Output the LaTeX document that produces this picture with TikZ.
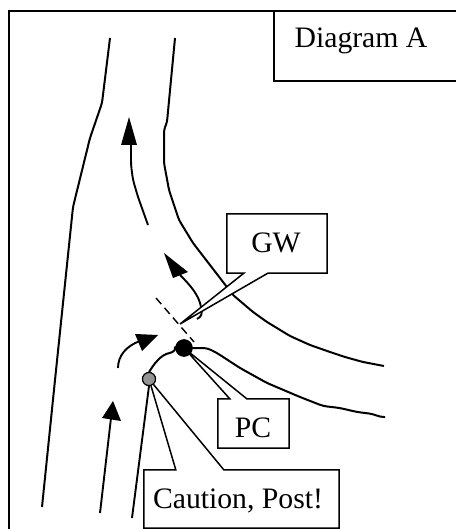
\documentclass[tikz,border=0pt]{standalone}
\usepackage{fontspec}
\setmainfont{Liberation Serif}
\usetikzlibrary{calc}
\tikzset{
  road/.style={draw=black,line width=2pt,line join=round,rounded corners=3pt},
  thin road/.style={draw=black,line width=1.9pt},
  head/.style={fill=black,draw=none},
  label box/.style={inner sep=0pt,font=\fontsize{29.7}{32}\selectfont,text=black},
  callout line/.style={draw=black,fill=white,line width=1.5pt,line join=miter},
  frame line/.style={draw=black,line width=1.6pt},
  black dot/.style={circle,draw=black,fill=black,line width=0.8pt,minimum size=16.5pt,inner sep=0pt},
  gray dot/.style={circle,draw=black,fill=black!42,line width=1.1pt,minimum size=13pt,inner sep=0pt}
}
\begin{document}
\begin{tikzpicture}[x=1pt,y=-1pt]
\useasboundingbox (0,0) rectangle (456,529);
\fill[white] (0,0) rectangle (456,529);
% frame
\coordinate (fbl) at (9,529);
\coordinate (ftl) at (9,11);
\coordinate (ftr) at (456,11);
\draw[frame line] (fbl) -- (ftl) -- (ftr);
% title box
\coordinate (tbt) at (274,11);
\coordinate (tbb) at (274,81);
\coordinate (tbr) at (456,81);
\draw[frame line,line width=1.4pt] (tbt) -- (tbb) -- (tbr);
\node[label box,anchor=base] (title) at (361,48) {Diagram A};
% upper roads
\draw[road] (110,38) -- (102,103) -- (90,138) -- (73,207) -- (55,380) -- (42,507);
\draw[road] (175,38) -- (167,122) -- (164,130) -- (164,163) -- (169,190) -- (179,220) -- (193,243) -- (220,278) -- (233,295) -- (253,312) -- (267,322) -- (290,336) -- (310,345) -- (330,352) -- (345,357) -- (363,362) -- (384,366);
% arrows
\draw[thin road,rounded corners=4pt] (148,225) -- (138,197) -- (133,180) -- (131,165) -- (131,142);
\fill[head] (129,117) -- (121,145) -- (137,145) -- cycle;
\draw[thin road] (197,319) .. controls (201,317) and (203,314) .. (201,307) .. controls (199,295) and (190,285) .. (180,275);
\fill[head] (164,253) -- (173,278) -- (188,272) -- cycle;
\draw[thin road] (118,368) .. controls (118,356) and (126,346) .. (140,341);
\fill[head] (158,335) -- (135,334) -- (142,351) -- cycle;
\draw[thin road] (100,513) -- (111,418);
\fill[head] (113,401) -- (102,418) -- (121,421) -- cycle;
% dashed line
\coordinate (da) at (156,298);
\coordinate (db) at (194,342);
\draw[draw=black,line width=1.4pt,dash pattern=on 8pt off 5pt] (da) -- (db);
% dots
\node[gray dot] (gray) at (149,379) {};
\node[black dot] (blk) at (184,348) {};
% roads from the dots
\draw[road,rounded corners=4pt] (blk.west) -- (176,351) -- (163,355) -- (155,363) -- (gray.north);
\draw[road,rounded corners=4pt] (blk.east) -- (207,348) -- (217,353) -- (240,368) -- (267,383) -- (300,397) -- (323,406) -- (340,408) -- (357,412) -- (373,414) -- (380,417) -- (385,417);
\draw[thin road] (132,518) -- (gray.south);
% GW
\node[label box,minimum width=100pt,minimum height=59pt] (gw) at (277,243.5) {};
\coordinate (gwtip) at (180,324);
\draw[callout line] (gw.north west) -- (gw.north east) -- (gw.south east) -- ($(gw.south west)+(41,0)$) -- (gwtip) -- ($(gw.south west)+(17,0)$) -- (gw.south west) -- cycle;
\node[label box,anchor=base] (gwt) at (276,252) {GW};
% PC
\node[label box,minimum width=71pt,minimum height=49pt] (pc) at (253.5,423.5) {};
\draw[callout line] (pc.north west) -- ($(pc.north west)+(12,0)$) -- (blk.center) -- ($(pc.north west)+(29,0)$) -- (pc.north east) -- (pc.south east) -- (pc.south west) -- cycle;
\node[label box,anchor=base] (pct) at (253,437) {PC};
% Caution
\node[label box,minimum width=195pt,minimum height=58pt] (ca) at (241.5,499) {};
\draw[callout line] (ca.north west) -- ($(ca.north west)+(32,0)$) -- (gray.center) -- ($(ca.north west)+(80,0)$) -- (ca.north east) -- (ca.south east) -- (ca.south west) -- cycle;
\node[label box,anchor=base] (cat) at (238,508) {Caution, Post!};
% dots on top
\node[gray dot] at (gray) {};
\node[black dot] at (blk) {};
\end{tikzpicture}
\end{document}
